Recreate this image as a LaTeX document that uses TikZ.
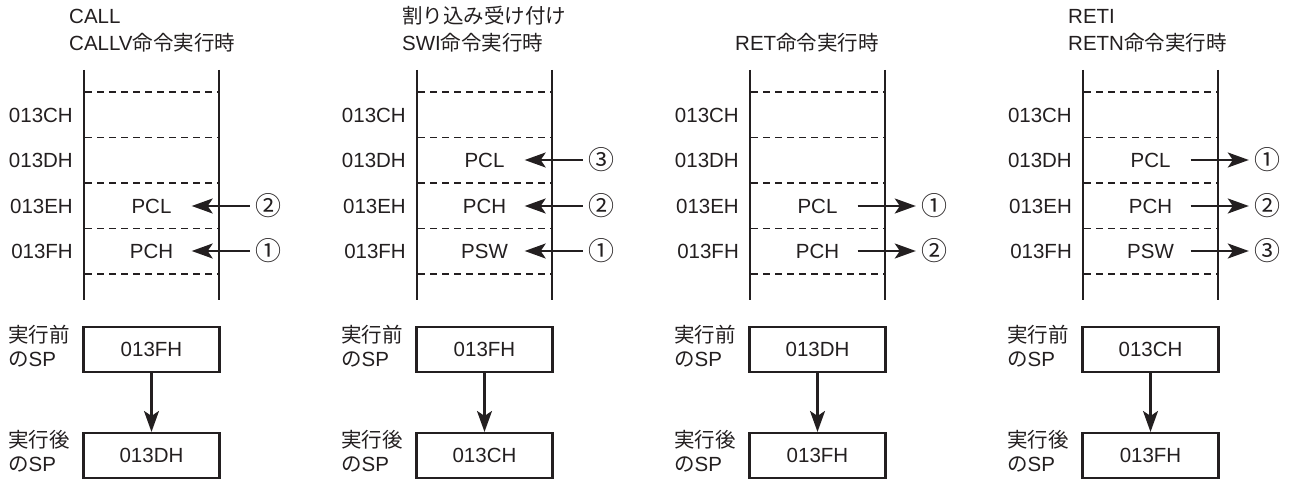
\documentclass[tikz,border=0pt]{standalone}
\usepackage{fontspec}
\setmainfont{Liberation Sans}
\newfontfamily\jpfont{Noto Sans CJK JP}
\newcommand{\J}[1]{{\jpfont #1}}
\usetikzlibrary{arrows.meta}
\definecolor{ink}{HTML}{231F20}
\begin{document}
\begin{tikzpicture}[x=1pt,y=-1pt,
  every node/.style={inner sep=0pt, text=ink, font=\fontsize{20.5}{24}\selectfont},
  vline/.style={line width=2.2pt, draw=ink},
  dline/.style={line width=1.7pt, draw=ink, dash pattern=on 7pt off 5pt},
  addr/.style={anchor=east},
  cell/.style={minimum width=80pt},
  num/.style={minimum width=36pt, font=\fontsize{26}{28}\selectfont\jpfont},
  arr/.style={line width=2.1pt, draw=ink, -{Stealth[length=21pt,width=15pt,inset=5pt]}},
  spbox/.style={draw=ink, line width=2.1pt, minimum width=136pt, minimum height=45pt},
  lbl/.style={anchor=base west}]
\useasboundingbox (0,0) rectangle (1289,481);

% ---------------- Panel 1 ----------------
\begin{scope}
\node[lbl] (a-t1) at (69,24) {CALL};
\node[lbl] (a-t2) at (69,51) {CALLV\J{命令実行時}};
\draw[vline] (84,70) -- (84,300);
\draw[vline] (219,70) -- (219,300);
\foreach \y in {92,137.5,183,228.5,274} \draw[dline] (85,\y) -- (218,\y);
\node[addr] (a-r1) at (73,115) {013CH};
\node[addr] (a-r2) at (73,160) {013DH};
\node[addr] (a-r3) at (73,206) {013EH};
\node[addr] (a-r4) at (73,251) {013FH};
\node[cell] (a-c3) at (151.5,206) {PCL};
\node[cell] (a-c4) at (151.5,251) {PCH};
\node[num] (a-n3) at (268,206) {②};
\node[num] (a-n4) at (268,251) {①};
\draw[arr] (a-n3.west) -- (a-c3.east);
\draw[arr] (a-n4.west) -- (a-c4.east);
\node[lbl] (a-b1) at (8,342) {\J{実行前}};
\node[lbl] (a-b2) at (8,366) {\J{の}SP};
\node[spbox] (a-sp1) at (151.5,349.5) {013FH};
\node[lbl] (a-a1) at (8,447) {\J{実行後}};
\node[lbl] (a-a2) at (8,471) {\J{の}SP};
\node[spbox] (a-sp2) at (151.5,455.5) {013DH};
\draw[arr] (a-sp1.south) -- (a-sp2.north);
\end{scope}

% ---------------- Panel 2 ----------------
\begin{scope}[xshift=333pt]
\node[lbl] (b-t1) at (69,24) {\J{割り込み受け付け}};
\node[lbl] (b-t2) at (69,51) {SWI\J{命令実行時}};
\draw[vline] (84,70) -- (84,300);
\draw[vline] (219,70) -- (219,300);
\foreach \y in {92,137.5,183,228.5,274} \draw[dline] (85,\y) -- (218,\y);
\node[addr] (b-r1) at (73,115) {013CH};
\node[addr] (b-r2) at (73,160) {013DH};
\node[addr] (b-r3) at (73,206) {013EH};
\node[addr] (b-r4) at (73,251) {013FH};
\node[cell] (b-c2) at (151.5,160) {PCL};
\node[cell] (b-c3) at (151.5,206) {PCH};
\node[cell] (b-c4) at (151.5,251) {PSW};
\node[num] (b-n2) at (268,160) {③};
\node[num] (b-n3) at (268,206) {②};
\node[num] (b-n4) at (268,251) {①};
\draw[arr] (b-n2.west) -- (b-c2.east);
\draw[arr] (b-n3.west) -- (b-c3.east);
\draw[arr] (b-n4.west) -- (b-c4.east);
\node[lbl] (b-b1) at (8,342) {\J{実行前}};
\node[lbl] (b-b2) at (8,366) {\J{の}SP};
\node[spbox] (b-sp1) at (151.5,349.5) {013FH};
\node[lbl] (b-a1) at (8,447) {\J{実行後}};
\node[lbl] (b-a2) at (8,471) {\J{の}SP};
\node[spbox] (b-sp2) at (151.5,455.5) {013CH};
\draw[arr] (b-sp1.south) -- (b-sp2.north);
\end{scope}

% ---------------- Panel 3 ----------------
\begin{scope}[xshift=666pt]
\node[lbl] (c-t2) at (69,51) {RET\J{命令実行時}};
\draw[vline] (84,70) -- (84,300);
\draw[vline] (219,70) -- (219,300);
\foreach \y in {92,137.5,183,228.5,274} \draw[dline] (85,\y) -- (218,\y);
\node[addr] (c-r1) at (73,115) {013CH};
\node[addr] (c-r2) at (73,160) {013DH};
\node[addr] (c-r3) at (73,206) {013EH};
\node[addr] (c-r4) at (73,251) {013FH};
\node[cell] (c-c3) at (151.5,206) {PCL};
\node[cell] (c-c4) at (151.5,251) {PCH};
\node[num] (c-n3) at (268,206) {①};
\node[num] (c-n4) at (268,251) {②};
\draw[arr] (c-c3.east) -- (c-n3.west);
\draw[arr] (c-c4.east) -- (c-n4.west);
\node[lbl] (c-b1) at (8,342) {\J{実行前}};
\node[lbl] (c-b2) at (8,366) {\J{の}SP};
\node[spbox] (c-sp1) at (151.5,349.5) {013DH};
\node[lbl] (c-a1) at (8,447) {\J{実行後}};
\node[lbl] (c-a2) at (8,471) {\J{の}SP};
\node[spbox] (c-sp2) at (151.5,455.5) {013FH};
\draw[arr] (c-sp1.south) -- (c-sp2.north);
\end{scope}

% ---------------- Panel 4 ----------------
\begin{scope}[xshift=999pt]
\node[lbl] (d-t1) at (69,24) {RETI};
\node[lbl] (d-t2) at (69,51) {RETN\J{命令実行時}};
\draw[vline] (84,70) -- (84,300);
\draw[vline] (219,70) -- (219,300);
\foreach \y in {92,137.5,183,228.5,274} \draw[dline] (85,\y) -- (218,\y);
\node[addr] (d-r1) at (73,115) {013CH};
\node[addr] (d-r2) at (73,160) {013DH};
\node[addr] (d-r3) at (73,206) {013EH};
\node[addr] (d-r4) at (73,251) {013FH};
\node[cell] (d-c2) at (151.5,160) {PCL};
\node[cell] (d-c3) at (151.5,206) {PCH};
\node[cell] (d-c4) at (151.5,251) {PSW};
\node[num] (d-n2) at (268,160) {①};
\node[num] (d-n3) at (268,206) {②};
\node[num] (d-n4) at (268,251) {③};
\draw[arr] (d-c2.east) -- (d-n2.west);
\draw[arr] (d-c3.east) -- (d-n3.west);
\draw[arr] (d-c4.east) -- (d-n4.west);
\node[lbl] (d-b1) at (8,342) {\J{実行前}};
\node[lbl] (d-b2) at (8,366) {\J{の}SP};
\node[spbox] (d-sp1) at (151.5,349.5) {013CH};
\node[lbl] (d-a1) at (8,447) {\J{実行後}};
\node[lbl] (d-a2) at (8,471) {\J{の}SP};
\node[spbox] (d-sp2) at (151.5,455.5) {013FH};
\draw[arr] (d-sp1.south) -- (d-sp2.north);
\end{scope}
\end{tikzpicture}
\end{document}
